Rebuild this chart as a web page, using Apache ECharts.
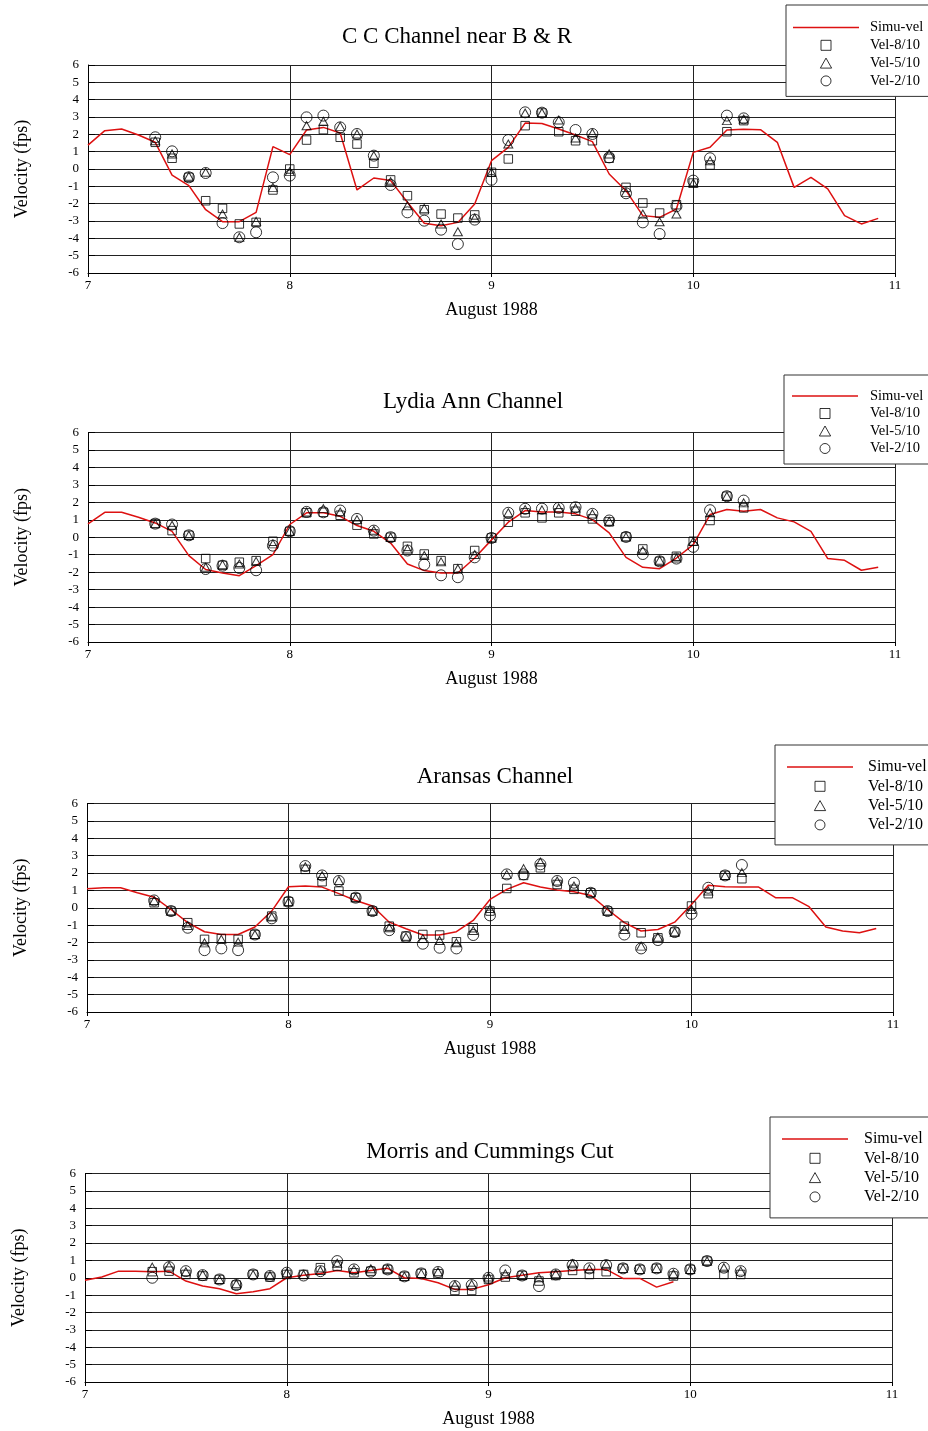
<!DOCTYPE html>
<html><head><meta charset="utf-8">
<script src="https://cdn.jsdelivr.net/npm/echarts@6/dist/echarts.min.js"></script>
<style>html,body{margin:0;padding:0;background:#fff}#c{width:928px;height:1431px}</style>
</head><body><div id="c"></div>
<script>
// ---- data ----
const titles = ['C C Channel near B & R', 'Lydia Ann Channel', 'Aransas Channel', 'Morris and Cummings Cut'];
const seriesNames = ['Simu-vel', 'Vel-8/10', 'Vel-5/10', 'Vel-2/10'];
const xTickLabels = [7, 8, 9, 10, 11];
const xAxisTitle = 'August 1988';
const yAxisTitle = 'Velocity (fps)';

const simTimes = [7.0, 7.0833, 7.1667, 7.25, 7.3333, 7.4167, 7.5, 7.5833, 7.6667, 7.75, 7.8333, 7.9167,
  8.0, 8.0833, 8.1667, 8.25, 8.3333, 8.4167, 8.5, 8.5833, 8.6667, 8.75, 8.8333, 8.9167,
  9.0, 9.0833, 9.1667, 9.25, 9.3333, 9.4167, 9.5, 9.5833, 9.6667, 9.75, 9.8333, 9.9167,
  10.0, 10.0833, 10.1667, 10.25, 10.3333, 10.4167, 10.5, 10.5833, 10.6667, 10.75, 10.8333, 10.9167];
const obsTimes = [7.3333, 7.4167, 7.5, 7.5833, 7.6667, 7.75, 7.8333, 7.9167,
  8.0, 8.0833, 8.1667, 8.25, 8.3333, 8.4167, 8.5, 8.5833, 8.6667, 8.75, 8.8333, 8.9167,
  9.0, 9.0833, 9.1667, 9.25, 9.3333, 9.4167, 9.5, 9.5833, 9.6667, 9.75, 9.8333, 9.9167,
  10.0, 10.0833, 10.1667, 10.25];

// Panel 1: C C Channel near B & R
const sim1 = [1.38, 2.21, 2.31, 1.96, 1.54, -0.35, -0.96, -2.35, -3.04, -3.04, -2.5, 1.29,
  0.83, 2.25, 2.4, 2.08, -1.21, -0.52, -0.67, -1.92, -3.13, -3.27, -3.08, -2.02,
  0.48, 1.25, 2.65, 2.63, 2.31, 1.96, 1.58, -0.29, -1.25, -2.69, -2.79, -2.31,
  0.96, 1.25, 2.25, 2.29, 2.27, 1.54, -1.06, -0.48, -1.15, -2.69, -3.17, -2.85];
const vel8_1 = [1.54, 0.62, -0.48, -1.83, -2.27, -3.17, -3.08, -1.21, 0.0, 1.67, 2.27, 1.83, 1.44, 0.33, -0.63, -1.54, -2.35, -2.6, -2.83, -2.65,
  -0.19, 0.58, 2.5, 3.23, 2.15, 1.63, 1.63, 0.62, -1.06, -1.96, -2.54, -2.06, -0.81, 0.23, 2.15, 2.79];
const vel5_1 = [1.63, 0.87, -0.42, -0.19, -2.6, -3.94, -3.02, -1.06, -0.15, 2.5, 2.75, 2.46, 2.02, 0.77, -0.73, -2.12, -2.27, -3.17, -3.62, -2.83,
  -0.19, 1.44, 3.23, 3.25, 2.83, 1.79, 2.08, 0.87, -1.35, -2.6, -3.04, -2.6, -0.81, 0.48, 2.79, 2.88];
const vel2_1 = [1.83, 1.02, -0.48, -0.23, -3.12, -3.94, -3.65, -0.48, -0.38, 2.98, 3.08, 2.4, 2.02, 0.77, -0.92, -2.5, -2.98, -3.5, -4.33, -2.92,
  -0.62, 1.67, 3.27, 3.25, 2.69, 2.25, 2.02, 0.67, -1.4, -3.08, -3.75, -2.15, -0.67, 0.62, 3.08, 2.92];

// Panel 2: Lydia Ann Channel
const sim2 = [0.76, 1.43, 1.43, 1.15, 0.82, 0.34, -1.05, -1.85, -2.05, -2.2, -1.63, -0.99,
  0.73, 1.4, 1.4, 1.2, 0.67, 0.34, -0.33, -1.53, -1.91, -2.05, -2.05, -1.19,
  -0.15, 0.86, 1.53, 1.45, 1.45, 1.34, 1.01, 0.25, -1.15, -1.72, -1.8, -1.19,
  -0.42, 1.3, 1.59, 1.49, 1.59, 1.11, 0.88, 0.34, -1.22, -1.32, -1.89, -1.72];
const vel8_2 = [0.78, 0.38, 0.11, -1.22, -1.61, -1.43, -1.34, -0.23, 0.34, 1.4, 1.43, 1.26, 0.69, 0.19, 0.0, -0.52, -0.96, -1.34, -1.8, -0.76,
  -0.04, 0.86, 1.4, 1.11, 1.4, 1.49, 1.05, 0.88, 0.02, -0.67, -1.38, -1.09, -0.23, 0.96, 2.35, 1.68];
const vel5_2 = [0.78, 0.69, 0.11, -1.72, -1.57, -1.53, -1.38, -0.38, 0.34, 1.45, 1.64, 1.45, 1.01, 0.4, 0.0, -0.67, -1.05, -1.41, -1.8, -0.99,
  -0.04, 1.4, 1.59, 1.57, 1.68, 1.68, 1.34, 0.92, 0.02, -0.76, -1.32, -1.19, -0.23, 1.4, 2.35, 1.97];
const vel2_2 = [0.78, 0.73, 0.11, -1.82, -1.63, -1.76, -1.89, -0.48, 0.34, 1.45, 1.43, 1.53, 1.05, 0.38, 0.0, -0.76, -1.57, -2.18, -2.29, -1.15,
  -0.04, 1.4, 1.63, 1.64, 1.68, 1.72, 1.34, 0.96, 0.02, -0.96, -1.38, -1.22, -0.55, 1.55, 2.35, 2.1];

// Panel 3: Aransas Channel
const sim3 = [1.09, 1.15, 1.15, 0.86, 0.61, -0.1, -0.86, -1.38, -1.54, -1.54, -1.11, -0.19,
  1.21, 1.25, 1.19, 0.81, 0.42, 0.1, -0.83, -1.21, -1.57, -1.57, -1.38, -0.73,
  0.48, 1.06, 1.44, 1.19, 1.02, 0.92, 0.71, -0.1, -0.86, -1.34, -1.25, -0.83,
  0.19, 1.29, 1.21, 1.19, 1.19, 0.58, 0.58, 0.06, -1.11, -1.34, -1.44, -1.19];
const vel8_3 = [0.29, -0.19, -0.86, -1.82, -1.77, -1.82, -1.54, -0.48, 0.35, 2.21, 1.5, 0.96, 0.58, -0.19, -1.06, -1.63, -1.54, -1.57, -1.96, -1.15,
  -0.19, 1.11, 1.86, 2.3, 1.34, 1.06, 0.86, -0.19, -1.06, -1.44, -1.73, -1.4, 0.1, 0.81, 1.86, 1.67];
const vel5_3 = [0.42, -0.19, -1.02, -2.02, -1.82, -1.98, -1.54, -0.54, 0.35, 2.36, 1.86, 1.57, 0.58, -0.19, -1.15, -1.69, -1.77, -1.88, -2.02, -1.31,
  -0.04, 1.92, 2.25, 2.63, 1.54, 1.25, 0.86, -0.19, -1.25, -2.21, -1.69, -1.4, -0.1, 0.96, 1.86, 2.02];
const vel2_3 = [0.42, -0.19, -1.15, -2.44, -2.34, -2.44, -1.54, -0.61, 0.35, 2.4, 1.86, 1.54, 0.58, -0.19, -1.29, -1.69, -2.07, -2.3, -2.34, -1.57,
  -0.44, 1.92, 1.92, 2.5, 1.54, 1.44, 0.86, -0.19, -1.54, -2.34, -1.86, -1.4, -0.35, 1.15, 1.86, 2.46];

// Panel 4: Morris and Cummings Cut (simulation ends before day 10)
const sim4 = [-0.15, 0.04, 0.38, 0.38, 0.35, 0.38, -0.19, -0.48, -0.63, -0.92, -0.81, -0.63,
  0.0, 0.15, 0.25, 0.42, 0.29, 0.42, 0.54, 0.0, -0.04, -0.29, -0.67, -0.67,
  -0.4, 0.0, 0.15, 0.29, 0.35, 0.42, 0.48, 0.48, -0.04, -0.04, -0.54, -0.23];
const vel8_4 = [0.35, 0.38, 0.19, 0.1, -0.1, -0.42, 0.19, 0.04, 0.19, 0.19, 0.58, 0.67, 0.29, 0.38, 0.48, 0.08, 0.25, 0.23, -0.73, -0.73,
  -0.1, 0.04, 0.13, -0.19, 0.13, 0.42, 0.19, 0.35, 0.54, 0.48, 0.54, 0.1, 0.48, 0.96, 0.19, 0.19];
const vel5_4 = [0.61, 0.67, 0.35, 0.19, -0.1, -0.35, 0.19, 0.13, 0.29, 0.19, 0.42, 0.83, 0.48, 0.52, 0.52, 0.08, 0.25, 0.35, -0.42, -0.38,
  0.04, 0.23, 0.13, 0.0, 0.23, 0.81, 0.52, 0.77, 0.54, 0.48, 0.54, 0.23, 0.48, 0.96, 0.58, 0.38];
const vel2_4 = [0.0, 0.61, 0.38, 0.15, -0.1, -0.42, 0.19, 0.1, 0.29, 0.13, 0.38, 0.96, 0.48, 0.35, 0.48, 0.08, 0.25, 0.33, -0.48, -0.42,
  0.0, 0.42, 0.13, -0.48, 0.19, 0.73, 0.54, 0.73, 0.54, 0.48, 0.54, 0.23, 0.48, 0.96, 0.58, 0.38];

const panelData = [
  [sim1, vel8_1, vel5_1, vel2_1],
  [sim2, vel8_2, vel5_2, vel2_2],
  [sim3, vel8_3, vel5_3, vel2_3],
  [sim4, vel8_4, vel5_4, vel2_4]
];

// ---- layout (not data) ----
const FONT = '"Liberation Serif", "Times New Roman", serif';
const RED = '#dd1111';
const layouts = [
  {grid: {left: 88, right: 33, top: 65, height: 208}, title: {x: 457, y: 37},
   legend: {left: 786, top: 5, pad: [15, 40, 8, 7], gap: 2.8, fs: 14.5, tp: 6}},
  {grid: {left: 88, right: 33, top: 432.5, height: 209.5}, title: {x: 473, y: 402},
   legend: {left: 784, top: 375, pad: [13.5, 40, 8, 8], gap: 2.5, fs: 14.5, tp: 7}},
  {grid: {left: 87, right: 35, top: 803.5, height: 208.5}, title: {x: 495, y: 777},
   legend: {left: 775, top: 745, pad: [14, 40, 12, 12], gap: 3.3, fs: 16, tp: 10}},
  {grid: {left: 85, right: 36, top: 1173.5, height: 208.5}, title: {x: 490, y: 1152},
   legend: {left: 770, top: 1117, pad: [14, 40, 13, 12], gap: 3.3, fs: 16, tp: 11}}
];

const gridLine = {lineStyle: {color: '#222', width: 1}};
const markerStyles = [
  {symbol: 'rect', symbolSize: 8.5, icon: 'path://M0,0H9V9H0Z'},
  {symbol: 'triangle', symbolSize: [9, 8], icon: 'path://M4.5,0L9,8L0,8Z'},
  {symbol: 'circle', symbolSize: 11, icon: 'circle'}
];
const markerItemStyle = {color: 'rgba(255,255,255,0)', borderColor: '#000', borderWidth: 1};

const option = {
  animation: false,
  backgroundColor: '#fff',
  title: [], grid: [], xAxis: [], yAxis: [], legend: [], series: []
};

layouts.forEach((L, i) => {
  option.title.push({
    text: titles[i], left: L.title.x, top: L.title.y, padding: 0,
    textAlign: 'center', textVerticalAlign: 'middle',
    textStyle: {fontFamily: FONT, fontSize: 23, fontWeight: 'normal', color: '#000'}
  });
  option.grid.push(Object.assign({containLabel: false}, L.grid));
  option.xAxis.push({
    type: 'value', gridIndex: i, min: xTickLabels[0], max: xTickLabels[xTickLabels.length - 1], interval: 1,
    name: xAxisTitle, nameLocation: 'middle', nameGap: 28,
    nameTextStyle: {fontFamily: FONT, fontSize: 18, color: '#000'},
    axisLine: {show: true, onZero: false, lineStyle: {color: '#000', width: 1}},
    axisTick: {show: true, inside: false, length: 4, lineStyle: {color: '#000'}},
    axisLabel: {fontFamily: FONT, fontSize: 13, color: '#000', margin: 6},
    splitLine: Object.assign({show: true}, gridLine)
  });
  option.yAxis.push({
    type: 'value', gridIndex: i, min: -6, max: 6, interval: 1,
    name: yAxisTitle, nameLocation: 'middle', nameGap: 57,
    nameTextStyle: {fontFamily: FONT, fontSize: 18, color: '#000'},
    axisLine: {show: true, lineStyle: {color: '#000', width: 1}},
    axisTick: {show: true, inside: true, length: 7, lineStyle: {color: '#000'}},
    axisLabel: {fontFamily: FONT, fontSize: 13, color: '#000', margin: 9},
    splitLine: Object.assign({show: true}, gridLine)
  });
  const lg = L.legend;
  option.legend.push({
    orient: 'vertical', left: lg.left, top: lg.top, padding: lg.pad, itemGap: lg.gap,
    itemWidth: 66, itemHeight: 10, selectedMode: false, symbolKeepAspect: true,
    backgroundColor: '#fff', borderColor: '#333', borderWidth: 1, borderRadius: 0,
    textStyle: {fontFamily: FONT, fontSize: lg.fs, color: '#000', padding: [0, 0, 0, lg.tp]},
    data: [
      {name: seriesNames[0], icon: 'path://M0,0H66V1.5H0Z', itemStyle: {color: RED, borderWidth: 0}},
      {name: seriesNames[1], icon: markerStyles[0].icon, itemStyle: markerItemStyle},
      {name: seriesNames[2], icon: markerStyles[1].icon, itemStyle: markerItemStyle},
      {name: seriesNames[3], icon: markerStyles[2].icon, itemStyle: markerItemStyle}
    ]
  });
  const d = panelData[i];
  option.series.push({
    name: seriesNames[0], type: 'line', xAxisIndex: i, yAxisIndex: i,
    data: d[0].map((v, k) => [simTimes[k], v]),
    symbol: 'none', smooth: false, z: 2,
    lineStyle: {color: RED, width: 1.5},
    itemStyle: {color: RED}
  });
  for (let m = 0; m < 3; m++) {
    option.series.push({
      name: seriesNames[m + 1], type: 'scatter', xAxisIndex: i, yAxisIndex: i,
      data: d[m + 1].map((v, k) => [obsTimes[k], v]),
      symbol: markerStyles[m].symbol, symbolSize: markerStyles[m].symbolSize, z: 3,
      itemStyle: markerItemStyle
    });
  }
});

const chart = echarts.init(document.getElementById('c'), null, {renderer: 'canvas'});
chart.setOption(option);
</script></body></html>
